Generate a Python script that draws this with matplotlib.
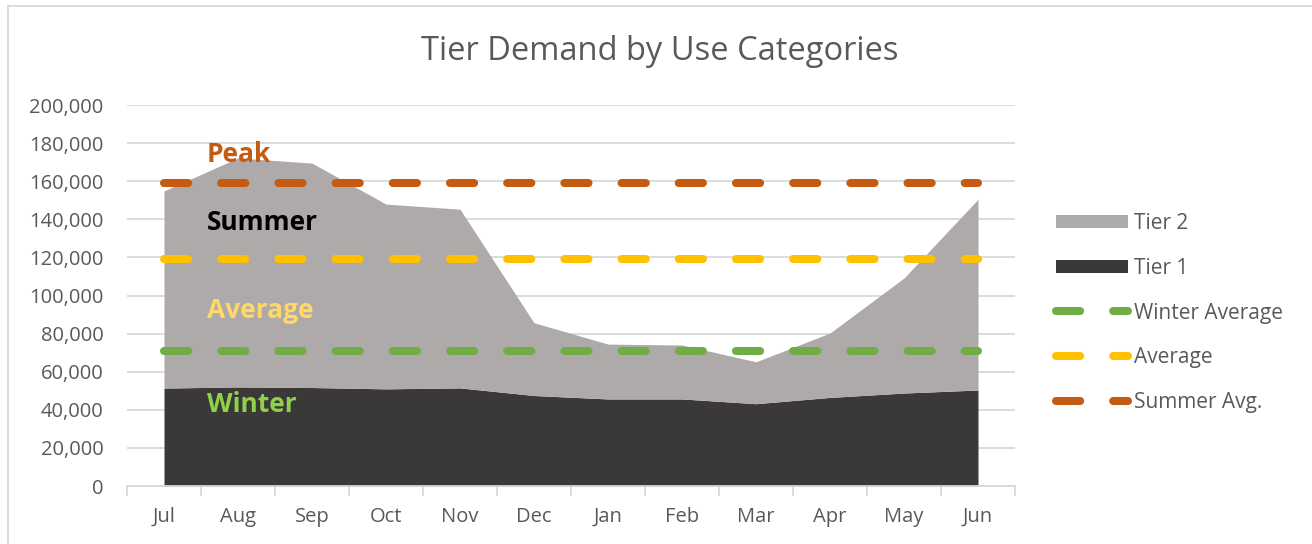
import matplotlib
matplotlib.use("Agg")
import matplotlib.pyplot as plt
from matplotlib.lines import Line2D
from matplotlib.patches import Patch
import numpy as np

months = ["Jul", "Aug", "Sep", "Oct", "Nov", "Dec", "Jan", "Feb", "Mar", "Apr", "May", "Jun"]
tier1 = [51400, 52000, 51700, 51000, 51500, 47500, 45700, 45700, 43200, 46500, 48800, 50400]
tier2 = [103500, 120200, 117800, 97000, 93800, 38200, 28800, 28300, 22000, 33800, 60400, 100100]
winter_avg = [71000] * 12
average = [119000] * 12
summer_avg = [159300] * 12
yticks = [0, 20000, 40000, 60000, 80000, 100000, 120000, 140000, 160000, 180000, 200000]

FONT = "Open Sans"
plt.rcParams["font.family"] = [FONT, "DejaVu Sans"]
TXT = "#595959"

fig = plt.figure(figsize=(13.12, 5.44), dpi=100)
ax = fig.add_axes([127 / 1312, 1 - 486 / 544, (1015 - 127) / 1312, (486 - 105) / 544])

x = np.arange(len(months))
t1 = np.array(tier1)
tot = t1 + np.array(tier2)
c_t1 = "#3B3838"
c_t2 = "#AEAAAA"
ax.fill_between(x, 0, t1, color=c_t1, lw=0, zorder=2)
ax.fill_between(x, t1, tot, color=c_t2, lw=0, zorder=2)

lw = 5.8
dash = (3.0, 4.1)
lines_spec = [(winter_avg, "#70AD47", "Winter Average"),
              (average, "#FFC000", "Average"),
              (summer_avg, "#C55A11", "Summer Avg.")]
for vals, col, lab in lines_spec:
    ln, = ax.plot(x, vals, color=col, lw=lw, solid_capstyle="round", dash_capstyle="round", zorder=3)
    ln.set_dashes(dash)

ax.set_xlim(-0.5, len(months) - 0.5)
ax.set_ylim(0, 200000)
ax.set_yticks(yticks)
ax.set_yticklabels([f"{v:,}" for v in yticks])
ax.yaxis.grid(True, color="#D9D9D9", lw=1.3, zorder=0)
ax.set_axisbelow(True)
for s in ["left", "right", "top"]:
    ax.spines[s].set_visible(False)
ax.spines["bottom"].set_color("#D9D9D9")
ax.spines["bottom"].set_linewidth(1.3)
ax.tick_params(axis="y", length=0, labelsize=14.5, labelcolor=TXT, pad=17)
ax.set_xticks(x)
ax.set_xticklabels(months)
ax.tick_params(axis="x", length=0, labelsize=14.5, labelcolor=TXT, pad=15)
ax.set_xticks(np.arange(-0.5, len(months)), minor=True)
ax.tick_params(axis="x", which="minor", length=7, color="#D9D9D9", width=1.3)

fig.text(660 / 1312, 1 - 51 / 544, "Tier Demand by Use Categories", ha="center", va="center",
         fontsize=23.5, color=TXT)

ann = [("Peak", "#C55A11", 155), ("Summer", "#000000", 222), ("Average", "#FFD966", 310), ("Winter", "#8ED14B", 405)]
for t, col, yp in ann:
    fig.text(207 / 1312, 1 - yp / 544, t, ha="left", va="center", fontsize=19, fontweight="bold", color=col)

handles = [Patch(facecolor=c_t2, edgecolor="none"), Patch(facecolor=c_t1, edgecolor="none")]
labels = ["Tier 2", "Tier 1"]
for vals, col, lab in lines_spec:
    h = Line2D([], [], color=col, lw=lw, dash_capstyle="round")
    h.set_dashes(dash)
    handles.append(h)
    labels.append(lab)
leg = fig.legend(handles, labels, loc="upper left", bbox_to_anchor=(1056 / 1312, 1 - 213 / 544),
                 frameon=False, fontsize=15, labelcolor=TXT, handlelength=3.45, handleheight=0.62,
                 handletextpad=0.3, labelspacing=1.14, borderpad=0, borderaxespad=0)

fig.add_artist(Line2D([8 / 1312, 8 / 1312], [0, 1 - 6 / 544], transform=fig.transFigure, color="#D9D9D9", lw=1.3))
fig.add_artist(Line2D([8 / 1312, 1], [1 - 6 / 544, 1 - 6 / 544], transform=fig.transFigure, color="#D9D9D9", lw=1.3))

fig.savefig("out.png", dpi=100)
